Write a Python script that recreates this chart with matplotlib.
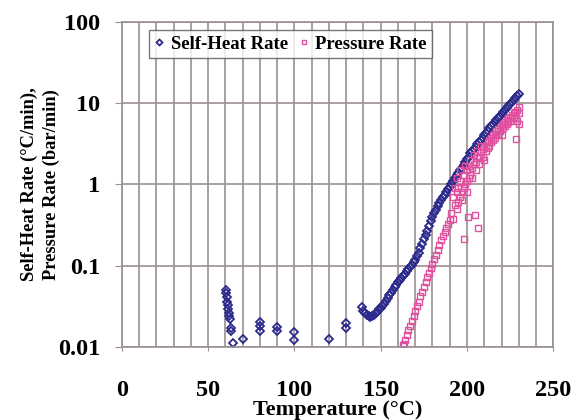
import numpy as np
import matplotlib
matplotlib.use('Agg')
import matplotlib.pyplot as plt
from matplotlib.ticker import MultipleLocator, FixedLocator, NullLocator

# Self-heat rate, low-temperature scattered points
sh_low_t = [60.3, 60.5, 60.8, 61.0, 61.3, 61.6, 61.9, 62.2, 62.5, 63.2, 63.4, 64.2,
            70.0, 80.0, 80.0, 80.0, 90.0, 90.0, 100.0, 100.0, 120.0, 130.0, 130.0]
sh_low_r = [0.050, 0.046, 0.041, 0.036, 0.033, 0.029, 0.026, 0.024, 0.022, 0.017, 0.0158, 0.0111,
            0.0125, 0.0204, 0.0181, 0.0158, 0.0178, 0.0157, 0.0154, 0.0122, 0.0125, 0.0195, 0.0170]

# Self-heat rate, exotherm (139-230 C, 1 C steps)
sh_t = list(range(139, 231))
sh_r = [0.031, 0.028, 0.026, 0.025, 0.024, 0.0235, 0.024, 0.025, 0.026, 0.027,
        0.029, 0.030, 0.032, 0.034, 0.037, 0.040, 0.043, 0.046, 0.050, 0.054,
        0.058, 0.063, 0.067, 0.071, 0.075, 0.080, 0.085, 0.090, 0.096, 0.103,
        0.110, 0.118, 0.130, 0.145, 0.163, 0.185, 0.21, 0.24, 0.27, 0.31,
        0.35, 0.40, 0.44, 0.49, 0.54, 0.59, 0.64, 0.69, 0.74, 0.80,
        0.87, 0.94, 1.02, 1.10, 1.20, 1.30, 1.40, 1.50, 1.60, 1.75,
        1.90, 2.05, 2.20, 2.40, 2.55, 2.70, 2.90, 3.10, 3.30, 3.50,
        3.75, 4.00, 4.30, 4.60, 4.90, 5.20, 5.50, 5.90, 6.20, 6.60,
        7.00, 7.40, 7.80, 8.30, 8.80, 9.30, 9.80, 10.4, 11.0, 11.6,
        12.2, 12.8]

# Pressure rate
pr_t = [163, 163.5, 164, 165, 166, 167, 168, 169, 170, 171, 172, 173, 174, 175,
        176, 177, 178, 179, 180, 181, 182, 183, 184, 185, 186, 187, 188, 189, 190,
        191, 192, 192, 193, 193, 194, 194, 194, 195, 195, 196, 196, 196, 197, 197,
        198, 198, 198.5, 199, 199, 200, 200, 200, 200.6, 201, 201, 202, 202, 203, 203,
        204, 204, 204.5, 205, 205, 206, 206, 206.4, 207, 207, 208, 208, 209, 209,
        210, 210, 211, 211, 212, 212, 213, 213, 214, 214, 215, 215, 216, 216,
        217, 217, 218, 218, 219, 219, 220, 220, 221, 221, 222, 222, 223, 223,
        224, 224, 225, 225, 226, 226, 227, 227, 228, 228.6, 229, 229, 230, 230, 230]
pr_r = [0.0105, 0.011, 0.012, 0.014, 0.016, 0.018, 0.021, 0.024, 0.028, 0.032, 0.036, 0.042, 0.048, 0.055,
        0.063, 0.072, 0.082, 0.094, 0.106, 0.12, 0.135, 0.155, 0.178, 0.204, 0.23, 0.26, 0.29, 0.33, 0.36,
        0.45, 0.38, 0.70, 0.55, 0.90, 0.50, 0.80, 1.20, 0.60, 0.90, 0.70, 1.10, 1.50, 0.80, 0.65,
        0.90, 1.30, 0.21, 1.00, 1.70, 1.10, 0.80, 1.50, 0.40, 1.20, 1.70, 1.30, 2.00, 1.60, 1.20,
        1.80, 2.30, 0.42, 1.90, 1.50, 2.10, 2.60, 0.29, 2.20, 1.80, 2.50, 3.00, 2.70, 2.20,
        2.90, 2.00, 3.00, 2.60, 3.30, 2.80, 3.50, 3.00, 3.70, 3.30, 4.00, 3.50, 4.20, 3.70,
        4.50, 4.00, 4.80, 4.20, 5.00, 4.50, 5.30, 4.00, 5.60, 5.00, 5.90, 5.30, 6.20, 5.60,
        6.50, 5.80, 6.80, 6.00, 7.10, 6.50, 7.50, 6.80, 7.80, 3.60, 8.30, 6.00, 9.00, 7.50, 5.50]

grid_c = '#9a9090'
blue = '#2b2a8c'
pink = '#e0509e'

plt.rcParams['font.family'] = ['Liberation Serif', 'DejaVu Serif']
plt.rcParams['font.weight'] = 'bold'

fig = plt.figure(figsize=(5.77, 4.2), dpi=100)
ax = fig.add_axes([0.211, 0.174, 0.748, 0.774])

ax.plot(sh_low_t + sh_t, sh_low_r + sh_r, linestyle='none', marker='D', markersize=3.8,
        markerfacecolor='none', markeredgecolor=blue, markeredgewidth=1.3, label='Self-Heat Rate')
ax.plot(pr_t, pr_r, linestyle='none', marker='s', markersize=3.8,
        markerfacecolor='none', markeredgecolor=pink, markeredgewidth=1.0, label='Pressure Rate')

ax.set_yscale('log')
ax.set_xlim(0, 250)
ax.set_ylim(0.01, 100)
ax.xaxis.set_major_locator(MultipleLocator(50))
ax.xaxis.set_minor_locator(MultipleLocator(10))
ax.yaxis.set_major_locator(FixedLocator([0.01, 0.1, 1, 10, 100]))
ax.yaxis.set_minor_locator(NullLocator())
ax.set_yticklabels(['0.01', '0.1', '1', '10', '100'])
ax.grid(True, which='both', axis='x', color=grid_c, linewidth=1.2)
ax.grid(True, which='major', axis='y', color=grid_c, linewidth=1.2)
ax.set_axisbelow(True)
for s in ax.spines.values():
    s.set_color(grid_c)
    s.set_linewidth(1.2)

ax.tick_params(axis='x', which='major', length=3, color=grid_c, pad=20.5, labelsize=17.5)
ax.tick_params(axis='x', which='minor', length=0)
ax.tick_params(axis='y', which='major', length=4.7, color=grid_c, pad=11, labelsize=17.5)

ax.set_xlabel('Temperature (°C)', fontsize=16, fontweight='bold', labelpad=-0.5)
ax.set_ylabel('Self-Heat Rate (°C/min),\nPressure Rate (bar/min)', fontsize=13.3,
              fontweight='bold', linespacing=1.35)
ax.yaxis.set_label_coords(-0.143, 0.5)

leg = ax.legend(loc='upper left', bbox_to_anchor=(0.063, 0.975), ncol=2, fontsize=13.5,
                frameon=True, fancybox=False, handlelength=0.5, handletextpad=0.35,
                columnspacing=0.6, borderpad=0.3, borderaxespad=0, markerscale=0.8)
leg.get_frame().set_edgecolor('#555555')
leg.get_frame().set_linewidth(1.0)

fig.savefig('out.png', dpi=100)
